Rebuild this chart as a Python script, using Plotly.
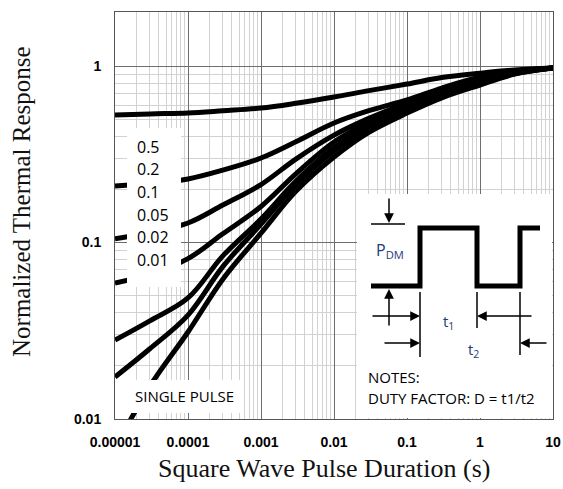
import plotly.graph_objects as go

# ---- data ----
pulse_duration = [1e-5, 3e-5, 1e-4, 3e-4, 1e-3, 3e-3, 0.01, 0.03, 0.1, 0.3, 1, 3, 10]

duty_labels = ["0.5", "0.2", "0.1", "0.05", "0.02", "0.01", "SINGLE PULSE"]
z_d050 = [0.527, 0.535, 0.542, 0.558, 0.578, 0.615, 0.667, 0.725, 0.790, 0.860, 0.910, 0.950, 0.975]
z_d020 = [0.209, 0.216, 0.229, 0.257, 0.301, 0.372, 0.475, 0.558, 0.642, 0.750, 0.866, 0.935, 0.975]
z_d010 = [0.105, 0.114, 0.129, 0.163, 0.213, 0.297, 0.406, 0.505, 0.617, 0.725, 0.840, 0.925, 0.975]
z_d005 = [0.059, 0.066, 0.081, 0.112, 0.160, 0.245, 0.371, 0.478, 0.593, 0.705, 0.820, 0.920, 0.975]
z_d002 = [0.028, 0.036, 0.0485, 0.084, 0.136, 0.222, 0.345, 0.455, 0.568, 0.690, 0.800, 0.910, 0.975]
z_d001 = [0.0173, 0.025, 0.0388, 0.073, 0.127, 0.212, 0.330, 0.442, 0.560, 0.680, 0.795, 0.905, 0.975]
z_single = [0.0068, 0.0153, 0.0311, 0.062, 0.113, 0.195, 0.305, 0.421, 0.541, 0.660, 0.780, 0.900, 0.975]

x_tickvals = [1e-5, 1e-4, 1e-3, 1e-2, 1e-1, 1, 10]
x_ticktext = ["0.00001", "0.0001", "0.001", "0.01", "0.1", "1", "10"]
y_tickvals = [0.01, 0.1, 1]
y_ticktext = ["0.01", "0.1", "1"]

# ---- layout geometry (pixels of a 563x489 canvas) ----
W, H = 563, 489
L, R, T, B = 115, 553, 12, 419


def px(x):
    return (x - L) / (R - L)


def py(y):
    return (B - y) / (B - T)


fig = go.Figure()
for vals in [z_d050, z_d020, z_d010, z_d005, z_d002, z_d001, z_single]:
    fig.add_trace(go.Scatter(x=pulse_duration, y=vals, mode="lines",
                             line=dict(color="black", width=5, shape="spline", smoothing=1.0),
                             showlegend=False, hoverinfo="skip"))

shapes = []
# white label boxes
for (x0, y0, x1, y1) in [(127, 128, 181, 287), (128, 380, 243, 413), (357, 194, 552, 418)]:
    shapes.append(dict(type="rect", xref="paper", yref="paper",
                       x0=px(x0), x1=px(x1), y0=py(y1), y1=py(y0),
                       fillcolor="white", line=dict(width=0), layer="above"))

# square wave of the inset
wave = [(371, 286), (420, 286), (420, 228), (477, 228), (477, 286), (520, 286), (520, 228), (540, 228)]
path = "M " + " L ".join(f"{px(a):.5f},{py(b):.5f}" for a, b in wave)
shapes.append(dict(type="path", xref="paper", yref="paper", path=path,
                   line=dict(color="black", width=5), layer="above"))
# thin helper lines
for (x0, y0, x1, y1) in [(371, 224, 405, 224), (420, 292, 420, 357), (477, 292, 477, 328), (520, 292, 520, 355)]:
    shapes.append(dict(type="line", xref="paper", yref="paper",
                       x0=px(x0), y0=py(y0), x1=px(x1), y1=py(y1),
                       line=dict(color="black", width=1.5), layer="above"))

ann = []
# arrows (tip, tail)
for (tx, ty, sx, sy) in [(389, 223, 389, 197), (389, 289, 389, 327), (420, 316, 371, 316),
                         (477, 316, 533, 316), (420, 343, 383, 343), (520, 343, 548, 343)]:
    ann.append(dict(xref="paper", yref="paper", x=px(tx), y=py(ty), ax=sx - tx, ay=sy - ty,
                    text="", showarrow=True, arrowhead=2, arrowsize=1.3, arrowwidth=1.5,
                    arrowcolor="black"))


def text_at(x, y, text, size, family="Open Sans", color="black", xanchor="center", angle=0):
    ann.append(dict(xref="paper", yref="paper", x=px(x), y=py(y), text=text,
                    xanchor=xanchor, yanchor="middle", textangle=angle, showarrow=False,
                    font=dict(family=family, size=size, color=color)))


navy = "#1f3a7a"
text_at(390, 250, "P<sub>DM</sub>", 16, color=navy)
text_at(448, 322, "t<sub>1</sub>", 15, color=navy)
text_at(473, 350, "t<sub>2</sub>", 15, color=navy)
text_at(366, 377, "NOTES:", 15, xanchor="left")
text_at(366, 398, "DUTY FACTOR: D = t1/t2", 15, xanchor="left")

# duty-cycle labels
label_y = [147, 169, 192, 215, 237, 260]
for lab, yy in zip(duty_labels[:6], label_y):
    text_at(135, yy, lab, 16, xanchor="left")
text_at(184, 396, duty_labels[6], 15)

# axis titles
text_at(324, 468, "Square Wave Pulse Duration (s)", 26, family="Liberation Serif", color="#111")
text_at(21, 202, "Normalized Thermal Response", 25, family="Liberation Serif", color="#111", angle=-90)

axis_common = dict(type="log", showgrid=True, gridcolor="#6e6e6e", gridwidth=1,
                   showline=True, linecolor="#555", linewidth=1, mirror=True,
                   ticks="", zeroline=False, automargin=False,
                   tickfont=dict(family="Liberation Sans", size=14, color="black", weight="bold"),
                   minor=dict(dtick="D1", showgrid=True, gridcolor="#d2d2d2", gridwidth=1, ticks=""))

fig.update_xaxes(**axis_common, range=[-5, 1], tickvals=x_tickvals, ticktext=x_ticktext,
                 ticklabelstandoff=10)
fig.update_yaxes(**axis_common, range=[-2, 0.306], tickvals=y_tickvals, ticktext=y_ticktext,
                 ticklabelstandoff=10)

fig.update_layout(template="none", width=W, height=H,
                  margin=dict(l=L, r=W - R, t=T, b=H - B, pad=0),
                  paper_bgcolor="white", plot_bgcolor="white",
                  shapes=shapes, annotations=ann)

fig.write_html("out.html", config={"displayModeBar": False},
               post_script="document.body.style.margin='0';document.body.style.overflow='hidden';")
